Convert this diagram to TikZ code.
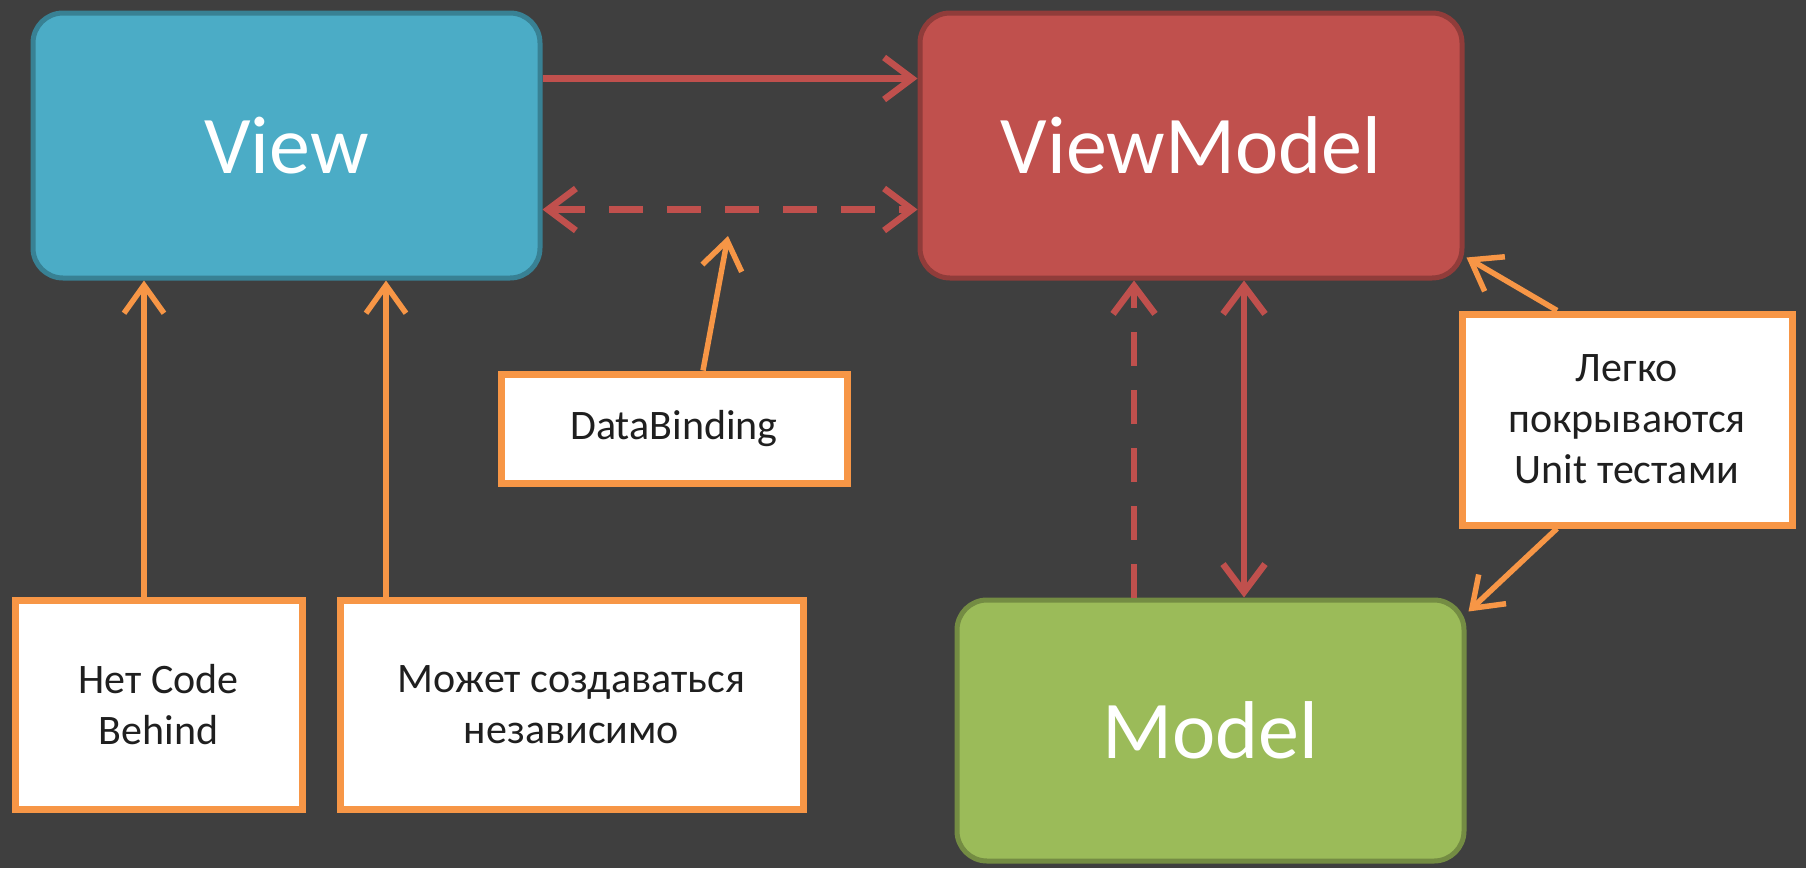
\documentclass[tikz,border=0pt]{standalone}
\usepackage{fontspec}
\setmainfont{Carlito}
\usetikzlibrary{arrows.meta}
\definecolor{bg}{HTML}{3F3F3F}
\definecolor{viewc}{HTML}{4BACC6}
\definecolor{vmc}{HTML}{C0504D}
\definecolor{modelc}{HTML}{9BBB59}
\definecolor{orc}{HTML}{F79646}
\definecolor{redln}{HTML}{C0504D}
\begin{document}
\begin{tikzpicture}[x=1pt,y=-1pt,
  bigbox/.style={rounded corners=30pt, line width=5pt, text=white,
    font=\fontsize{82}{98}\selectfont, inner sep=0pt},
  note/.style={draw=orc, fill=white, line width=7pt, text=black!88,
    font=\fontsize{42}{51}\selectfont, align=center, inner sep=0pt},
  redar/.style={draw=redln, line width=6.5pt,
    -{Straight Barb[length=28pt,width=42pt,line width=6.5pt]}},
  redbi/.style={draw=redln, line width=6.5pt,
    {Straight Barb[length=28pt,width=42pt,line width=6.5pt]}-{Straight Barb[length=28pt,width=42pt,line width=6.5pt]}},
  reddash/.style={dash pattern=on 34pt off 24pt},
  orar/.style={draw=orc, line width=5.5pt,
    -{Straight Barb[length=28pt,width=40pt,line width=5.5pt]}}
]
\fill[bg] (0,0) rectangle (1806,868);
\useasboundingbox (0,0) rectangle (1806,868);

% main boxes
\node[bigbox, fill=viewc, draw=viewc!75!black, minimum width=507pt, minimum height=265pt]
  (view) at (286.5,145.5) {View};
\node[bigbox, fill=vmc, draw=vmc!75!black, minimum width=542pt, minimum height=265pt]
  (vm) at (1191,145.5) {ViewModel};
\node[bigbox, fill=modelc, draw=modelc!75!black, minimum width=507pt, minimum height=261pt]
  (model) at (1210.5,730.5) {Model};

% notes
\node[note, minimum width=287pt, minimum height=209pt] (n1) at (158.5,704.5) {Нет Code\\Behind};
\node[note, minimum width=463pt, minimum height=209pt] (n2) at (571.5,704.5) {Может создаваться\\независимо};
\node[note, minimum width=346pt, minimum height=109pt] (db) at (674,428.5) {DataBinding};
\node[note, minimum width=330pt, minimum height=211pt] (ut) at (1627,419.5) {Легко\\покрываются\\Unit тестами};

% red connectors
\draw[redar] ([yshift=67pt]view.east) -- ([yshift=67pt]vm.west);
\draw[redbi, reddash] ([yshift=-64pt]view.east) -- ([yshift=-64pt]vm.west);
\draw[redar, reddash] ([xshift=-76.5pt]model.north) -- ([xshift=-57pt]vm.south);
\draw[redbi] ([xshift=53pt]vm.south) -- ([xshift=33.5pt]model.north);

% orange connectors
\coordinate (dbtip) at (728,236);
\draw[orar] ([xshift=-14.5pt]n1.north) -- ([xshift=-142.5pt]view.south);
\draw[orar] ([xshift=-185.5pt]n2.north) -- ([xshift=99.5pt]view.south);
\draw[orar] ([xshift=29pt]db.north) -- (dbtip);
\draw[orar] ([xshift=-70pt]ut.north) -- ([yshift=23pt,xshift=2pt]vm.south east);
\draw[orar] ([xshift=-70pt]ut.south) -- ([yshift=-14pt,xshift=2pt]model.north east);
\end{tikzpicture}
\end{document}
